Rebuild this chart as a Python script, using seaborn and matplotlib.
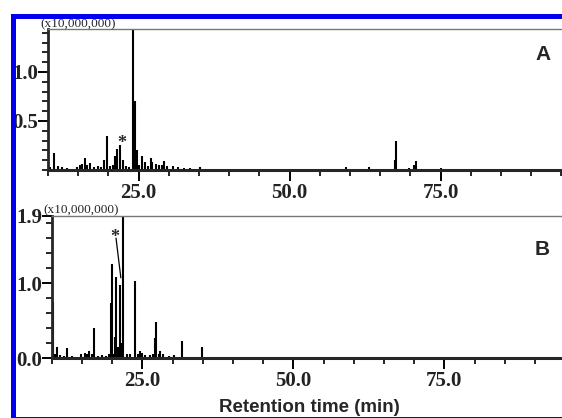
import matplotlib
matplotlib.use('Agg')
import matplotlib.pyplot as plt
from matplotlib.patches import Rectangle
from matplotlib.ticker import MultipleLocator, FixedLocator
import seaborn as sns

# Peak lists (retention time in min, height in 1e7 counts)
rt_a = [10.4, 11.0, 11.6, 12.3, 13.2, 14.8, 15.3, 15.7, 16.1, 16.4, 17.0, 17.6,
        18.2, 18.7, 19.3, 19.7, 20.2, 20.7, 21.1, 21.5, 22.0, 22.4, 22.9, 23.4,
        24.1, 24.35, 24.7, 25.0, 25.6, 26.0, 26.6, 27.05, 27.3, 27.9, 28.4, 28.9,
        29.2, 29.7, 30.7, 31.5, 32.5, 33.5, 35.2, 59.4, 63.1, 67.4, 67.6, 69.8,
        70.6, 70.9, 75.1]
h_a = [0.03, 0.17, 0.04, 0.03, 0.02, 0.03, 0.05, 0.06, 0.12, 0.05, 0.07, 0.03,
       0.04, 0.03, 0.10, 0.35, 0.04, 0.05, 0.14, 0.21, 0.26, 0.10, 0.04, 0.03,
       1.43, 0.70, 0.20, 0.05, 0.14, 0.08, 0.04, 0.12, 0.08, 0.06, 0.05, 0.05,
       0.09, 0.04, 0.04, 0.03, 0.02, 0.02, 0.03, 0.03, 0.035, 0.10, 0.30, 0.02,
       0.05, 0.09, 0.02]

rt_b = [10.27, 10.5, 10.8, 11.4, 12.0, 12.5, 13.3, 14.2, 14.9, 15.5, 15.9, 16.2,
        16.6, 17.0, 17.6, 18.3, 19.0, 19.5, 19.87, 20.03, 20.2, 20.4, 20.6, 20.9,
        21.36, 21.55, 21.85, 22.4, 23.0, 23.8, 24.3, 24.6, 25.0, 25.5, 26.2, 26.8,
        27.15, 27.3, 27.7, 28.0, 28.5, 29.5, 30.3, 31.5, 32.5, 34.9, 36.5, 40.0]
h_b = [0.75, 0.05, 0.15, 0.04, 0.03, 0.14, 0.03, 0.02, 0.05, 0.07, 0.05, 0.10,
       0.06, 0.40, 0.03, 0.04, 0.03, 0.05, 0.73, 1.26, 0.05, 0.28, 1.08, 0.15,
       0.97, 0.20, 2.50, 0.05, 0.06, 1.03, 0.05, 0.10, 0.07, 0.04, 0.04, 0.05,
       0.27, 0.48, 0.06, 0.10, 0.05, 0.03, 0.04, 0.23, 0.02, 0.15, 0.02, 0.01]

x_major = [25.0, 50.0, 75.0]
x_labels = ['25.0', '50.0', '75.0']
ya_major = [0.5, 1.0]
ya_labels = ['0.5', '1.0']
yb_major = [0.0, 1.0, 1.9]
yb_labels = ['0.0', '1.0', '1.9']

sns.set_style('ticks')
plt.rcParams['font.family'] = ['Liberation Serif', 'DejaVu Serif']

W, H = 562, 418
fig = plt.figure(figsize=(W / 100, H / 100), dpi=100)
fig.patch.set_facecolor('white')

axA = fig.add_axes([48 / W, 1 - 170 / H, 1 - 48 / W, 141 / H])
axB = fig.add_axes([51.7 / W, 1 - 358 / H, 1 - 51.7 / W, 142.3 / H])


def style_axis(ax, rt, h, xmax, ymax, ymaj, ylab, yminor):
    ax.vlines(rt, 0, h, colors='black', linewidth=1.5)
    ax.set_xlim(10, xmax)
    ax.set_ylim(0, ymax)
    ax.xaxis.set_major_locator(FixedLocator(x_major))
    ax.set_xticklabels(x_labels)
    ax.xaxis.set_minor_locator(MultipleLocator(5))
    ax.yaxis.set_major_locator(FixedLocator(ymaj))
    ax.set_yticklabels(ylab)
    ax.yaxis.set_minor_locator(MultipleLocator(yminor))
    ax.tick_params(which='major', length=8, width=1.4, color='black',
                   labelsize=15, labelcolor='#222222', pad=1)
    ax.tick_params(axis='y', which='major', length=7, pad=0)
    ax.tick_params(which='minor', length=4, width=1.2, color='black')
    for lab in ax.get_xticklabels() + ax.get_yticklabels():
        lab.set_fontweight('bold')
    ax.spines['left'].set_linewidth(2)
    ax.spines['bottom'].set_linewidth(2.2)
    ax.spines['top'].set_visible(True)
    ax.spines['top'].set_color('#777777')
    ax.spines['top'].set_linewidth(1)
    ax.spines['right'].set_visible(False)
    ax.set_facecolor('white')


style_axis(axA, rt_a, h_a, 10 + (562 - 48) / 6.04, 1.438, ya_major, ya_labels, 0.1)
style_axis(axB, rt_b, h_b, 10 + (562 - 51.7) / 6.04, 1.9, yb_major, yb_labels, 0.2)

# asterisks marking the compound of interest
axA.text(22.25, 0.22, '*', ha='center', va='baseline', fontsize=13, fontweight='bold')
axB.text(20.5, 1.55, '*', ha='center', va='baseline', fontsize=13, fontweight='bold')
axB.plot([20.65, 21.45], [1.6, 1.07], color='black', linewidth=0.9)

# scale notes and panel letters
fig.text(40 / W, 1 - 24 / H, '(x10,000,000)', ha='left', va='center', fontsize=9.5)
fig.text(43 / W, 1 - 210 / H, '(x10,000,000)', ha='left', va='center', fontsize=9.5)
fig.text(543 / W, 1 - 55 / H, 'A', ha='center', va='center', fontsize=15,
         fontweight='bold', family=['Liberation Sans', 'DejaVu Sans'])
fig.text(542 / W, 1 - 249 / H, 'B', ha='center', va='center', fontsize=15,
         fontweight='bold', family=['Liberation Sans', 'DejaVu Sans'])
fig.text(309 / W, 6 / H, 'Retention time (min)', ha='center', va='baseline',
         fontsize=13.5, fontweight='bold', family=['Liberation Sans', 'DejaVu Sans'])

# blue frame
blue = '#0000ee'
fig.add_artist(Rectangle((11 / W, 0), 5 / W, 1 - 14 / H, transform=fig.transFigure,
                         facecolor=blue, edgecolor='none', zorder=10))
fig.add_artist(Rectangle((11 / W, 1 - 19 / H), 1 - 11 / W, 5 / H, transform=fig.transFigure,
                         facecolor=blue, edgecolor='none', zorder=10))
fig.add_artist(Rectangle((11 / W, 0), 1 - 11 / W, 1.5 / H, transform=fig.transFigure,
                         facecolor=blue, edgecolor='none', zorder=10))

fig.savefig('out.png', dpi=100, facecolor='white')
